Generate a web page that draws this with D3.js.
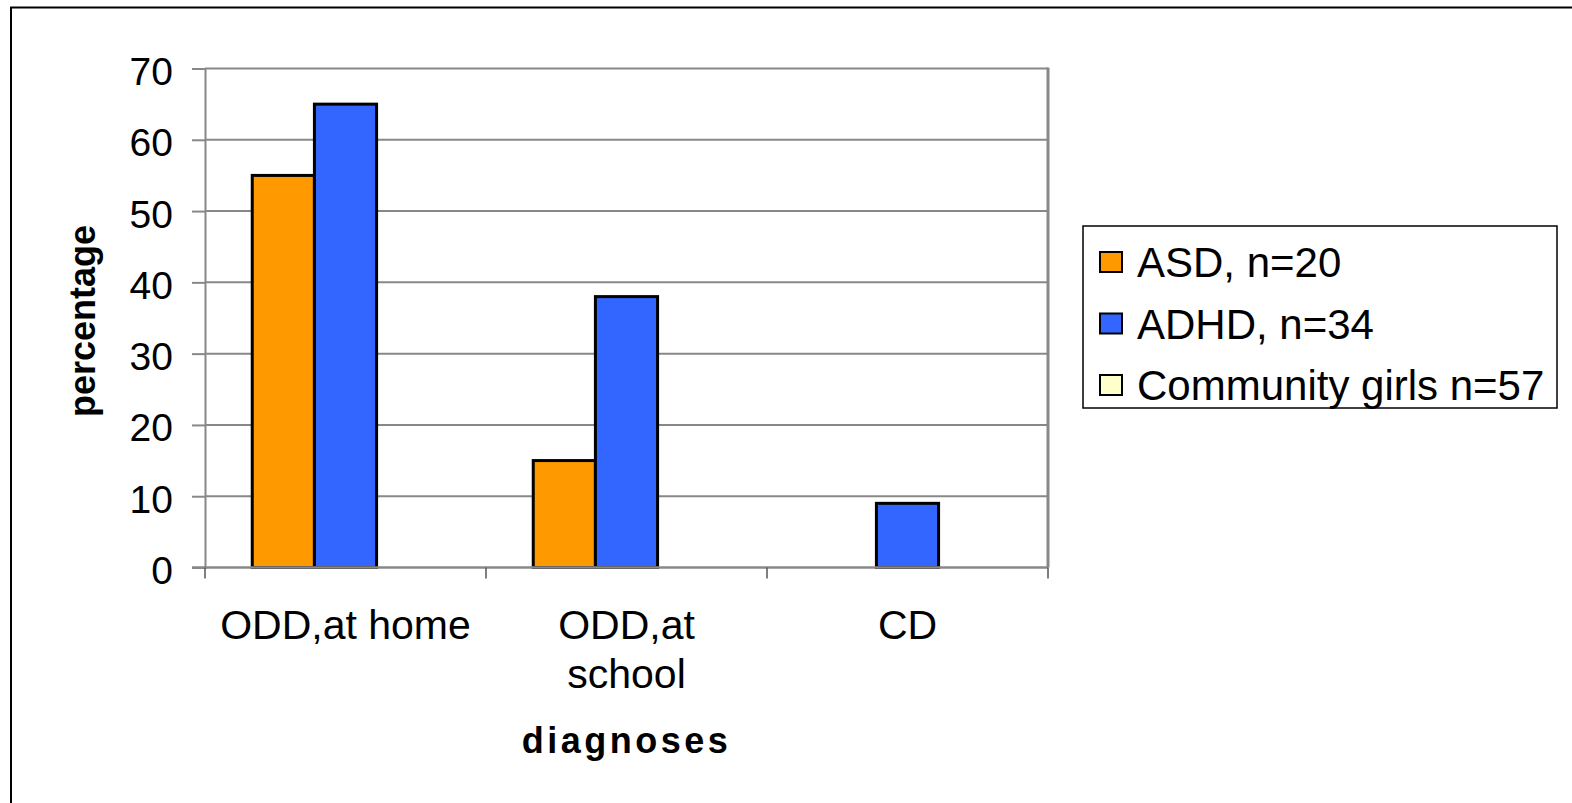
<!DOCTYPE html>
<html>
<head>
<meta charset="utf-8">
<script src="https://cdn.jsdelivr.net/npm/d3@7"></script>
<style>
  html, body { margin: 0; padding: 0; background: #fff; }
  svg { display: block; font-family: "Liberation Sans", Arial, sans-serif; }
</style>
</head>
<body>
<div id="chart"></div>
<script>
// data
const categories = ["ODD,at home", "ODD,at school", "CD"];
const categoryLines = [["ODD,at home"], ["ODD,at", "school"], ["CD"]];
const seriesNames = ["ASD, n=20", "ADHD, n=34", "Community girls n=57"];
const seriesColors = ["#ff9900", "#3366ff", "#ffffcc"];
const asdValues = [55, 15, 0];
const adhdValues = [65, 38, 9];
const communityValues = [0, 0, 0];
const yTicks = [0, 10, 20, 30, 40, 50, 60, 70];

const width = 1572, height = 803;
const margin = { top: 68.5, right: 524, bottom: 235.5, left: 205 };
const font = '"Liberation Sans", Arial, sans-serif';

const svg = d3.select('#chart').append('svg')
    .attr('width', width)
    .attr('height', height);

// outer frame (only left/top visible)
svg.append('rect')
    .attr('x', 11).attr('y', 7.5)
    .attr('width', width).attr('height', height)
    .attr('fill', 'none').attr('stroke', '#000').attr('stroke-width', 2);

const x0 = d3.scaleBand()
    .domain(categories)
    .range([margin.left, width - margin.right])
    .paddingInner(0).paddingOuter(0);

const x1 = d3.scaleBand()
    .domain(seriesNames)
    .range([0, x0.bandwidth()])
    .paddingInner(0)
    .paddingOuter(0.76);

const y = d3.scaleLinear()
    .domain([0, 70])
    .range([height - margin.bottom, margin.top]);

// gridlines
svg.append('g')
    .selectAll('line')
    .data(yTicks.filter(d => d > 0))
    .join('line')
    .attr('x1', margin.left).attr('x2', width - margin.right)
    .attr('y1', d => y(d)).attr('y2', d => y(d))
    .attr('stroke', '#888').attr('stroke-width', 2);

// right side of plot frame
svg.append('line')
    .attr('x1', width - margin.right).attr('x2', width - margin.right)
    .attr('y1', margin.top - 1).attr('y2', y(0))
    .attr('stroke', '#888').attr('stroke-width', 3);

// bars
const rows = categories.map((c, i) => ({
    cat: c,
    vals: [asdValues[i], adhdValues[i], communityValues[i]]
}));

const groups = svg.append('g')
    .selectAll('g')
    .data(rows)
    .join('g')
    .attr('transform', d => `translate(${x0(d.cat)},0)`);

groups.selectAll('rect')
    .data(d => d.vals.map((v, j) => ({ name: seriesNames[j], v, j })).filter(e => e.v > 0))
    .join('rect')
    .attr('x', d => x1(d.name))
    .attr('width', x1.bandwidth())
    .attr('y', d => y(d.v))
    .attr('height', d => y(0) - y(d.v))
    .attr('fill', d => seriesColors[d.j])
    .attr('stroke', '#000')
    .attr('stroke-width', 3);

// y axis
const yAxis = svg.append('g')
    .attr('transform', `translate(${margin.left},0)`)
    .call(d3.axisLeft(y).tickValues(yTicks).tickSize(13).tickPadding(19));
yAxis.select('.domain').attr('stroke', '#888').attr('stroke-width', 2);
yAxis.selectAll('.tick line').attr('stroke', '#888').attr('stroke-width', 2);
yAxis.selectAll('.tick text')
    .attr('fill', '#000')
    .attr('dy', '0.41em')
    .style('font-size', '39px')
    .style('font-family', font);

// x axis
const xAxis = svg.append('g')
    .attr('transform', `translate(0,${y(0)})`);
xAxis.append('line')
    .attr('x1', margin.left - 13).attr('x2', width - margin.right)
    .attr('y1', 0).attr('y2', 0)
    .attr('stroke', '#888').attr('stroke-width', 2.5);
const xTickPos = categories.map(c => x0(c)).concat([x0(categories[categories.length - 1]) + x0.bandwidth()]);
xAxis.selectAll('line.xt')
    .data(xTickPos)
    .join('line')
    .attr('class', 'xt')
    .attr('x1', d => d).attr('x2', d => d)
    .attr('y1', 0).attr('y2', 11)
    .attr('stroke', '#555').attr('stroke-width', 1.5);

// category labels
const catLabels = svg.append('g');
categories.forEach((c, i) => {
    const cx = x0(c) + x0.bandwidth() / 2;
    const t = catLabels.append('text')
        .attr('x', cx)
        .attr('y', 639)
        .attr('text-anchor', 'middle')
        .style('font-size', '41px')
        .attr('fill', '#000');
    categoryLines[i].forEach((ln, k) => {
        t.append('tspan')
            .attr('x', cx)
            .attr('dy', k === 0 ? 0 : 49)
            .text(ln);
    });
});

// axis titles
svg.append('text')
    .attr('x', (margin.left + width - margin.right) / 2)
    .attr('y', 753)
    .attr('text-anchor', 'middle')
    .style('font-size', '36px')
    .style('font-weight', 'bold')
    .style('letter-spacing', '3.5px')
    .text('diagnoses');

svg.append('text')
    .attr('transform', `translate(95,${(margin.top + y(0)) / 2 + 3}) rotate(-90)`)
    .attr('text-anchor', 'middle')
    .style('font-size', '36px')
    .style('font-weight', 'bold')
    .text('percentage');

// legend
const legend = svg.append('g');
legend.append('rect')
    .attr('x', 1083).attr('y', 226)
    .attr('width', 474).attr('height', 182)
    .attr('fill', '#fff').attr('stroke', '#000').attr('stroke-width', 1.5);

const legItems = legend.selectAll('g.item')
    .data(seriesNames)
    .join('g')
    .attr('class', 'item')
    .attr('transform', (d, i) => `translate(1100,${262 + i * 61.5})`);

legItems.append('rect')
    .attr('x', 0).attr('y', -10)
    .attr('width', 22).attr('height', 20)
    .attr('fill', (d, i) => seriesColors[i])
    .attr('stroke', '#000').attr('stroke-width', 2);

legItems.append('text')
    .attr('x', 37).attr('y', 15)
    .style('font-size', '42px')
    .text(d => d);
</script>
</body>
</html>
